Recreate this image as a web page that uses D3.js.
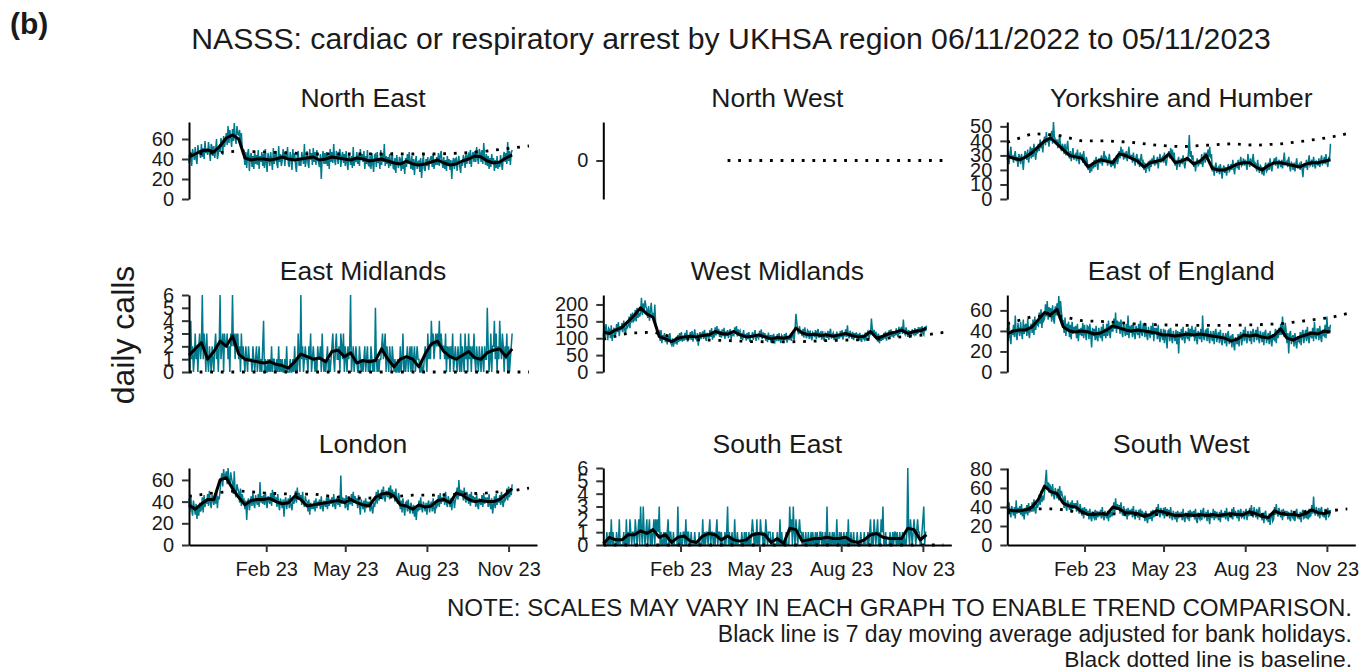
<!DOCTYPE html>
<html>
<head>
<meta charset="utf-8">
<script src="https://cdn.jsdelivr.net/npm/d3@7"></script>
<style>
  body { margin: 0; background: #fff; }
  svg text { font-family: "Liberation Sans", Arial, sans-serif; fill: #1a1a1a; }
</style>
</head>
<body>
<svg id="chart" width="1362" height="671"></svg>
<script>
// ---- data ----
var regions = ["North East", "North West", "Yorkshire and Humber",
               "East Midlands", "West Midlands", "East of England",
               "London", "South East", "South West"];

var yMax = [77, 1, 53, 6, 228, 75, 71, 6, 81];
var yMin = [0, -1, 0, 0, 0, 0, 0, 0, 0];
var yTicks = [[0, 20, 40, 60], [0], [0, 10, 20, 30, 40, 50], [0, 1, 2, 3, 4, 5, 6],
              [0, 50, 100, 150, 200], [0, 20, 40, 60], [0, 20, 40, 60],
              [0, 1, 2, 3, 4, 5, 6], [0, 20, 40, 60, 80]];
var xTickLabels = ["2023-02-01", "2023-05-01", "2023-08-01", "2023-11-01"];

// daily calls, 06/11/2022 .. 05/11/2023
var dailyNorthEast = [36,48,40,33,50,45,39, 52,40,35,54,46,49,41, 55,42,51,40,58,46,50, 44,57,47,38,55,52,43,
  53,41,49,60,40,45,54, 47,61,55,44,63,52,58, 66,54,73,56,69,62,52, 70,58,76,61,55,73,65,
  64,69,53,66,50,46,43, 34,47,31,45,50,28,42, 46,32,43,30,48,35,44, 34,49,30,43,37,47,33,
  45,31,50,36,27,46,41, 33,47,38,29,51,35,43, 48,35,31,53,37,45,33, 38,50,44,33,48,40,52,
  35,32,47,41,29,50,38, 46,34,27,44,48,33,41, 33,47,42,35,55,32,38, 48,36,31,50,39,46,34,
  51,37,47,34,49,40,36, 32,45,20,41,48,35,46, 35,47,33,43,30,50,37, 47,36,55,39,34,48,43,
  35,46,50,32,42,47,36, 45,33,48,36,29,46,41, 34,43,31,52,33,42,37, 47,35,44,33,50,39,45,
  37,48,30,43,35,49,34, 33,43,30,46,35,27,44, 45,32,47,36,41,30,49, 34,46,37,55,33,43,35,
  42,31,45,33,38,47,31, 30,41,26,44,35,31,42, 40,28,43,30,37,25,41, 32,45,35,47,38,30,43,
  29,40,24,38,43,30,37, 38,27,41,21,36,44,30, 28,40,33,42,29,38,41, 43,32,45,30,39,34,42,
  34,46,33,43,48,37,31, 42,30,39,28,43,33,40, 29,39,20,37,41,30,40, 41,28,38,43,32,26,39,
  33,44,40,31,46,35,43, 45,35,49,32,43,47,37, 48,37,52,41,35,50,46, 37,49,35,56,42,34,45,
  33,43,30,41,32,45,36, 41,28,39,31,43,30,38, 32,44,35,29,42,47,37, 46,35,57,38,48,34,46, 49];
var dailyNorthWest = [];
var dailyYorkshire = [27,33,24,31,36,28,30, 25,30,33,26,29,22,31, 29,24,31,27,20,28,33, 31,27,34,25,30,36,28,
  35,29,38,31,27,34,33, 38,33,41,35,39,32,40, 43,37,46,39,42,36,44, 40,47,38,53,43,41,39,
  41,35,39,44,36,33,38, 36,31,38,30,35,40,32, 28,33,26,31,35,27,30, 31,26,34,28,24,32,29,
  30,25,33,27,23,29,26, 20,24,18,23,19,25,21, 27,22,29,24,20,28,25, 25,30,23,28,33,26,29,
  28,23,27,31,24,22,27, 23,28,21,26,30,24,27, 33,28,36,30,34,27,32, 28,33,26,31,36,29,30,
  30,25,32,27,23,29,31, 24,28,22,27,31,25,26, 20,25,18,23,21,26,19, 27,22,28,24,30,23,26,
  24,29,21,27,31,25,28, 29,25,32,26,23,28,30, 33,28,35,30,34,27,32, 23,27,20,26,29,22,25,
  28,24,30,25,21,27,29, 26,31,44,29,33,27,30, 22,26,19,25,28,23,24, 27,24,31,22,26,32,25,
  32,27,34,29,36,28,31, 19,23,16,22,25,18,21, 22,17,24,19,14,21,23, 18,22,16,21,24,19,20,
  24,20,27,21,17,23,25, 21,27,20,25,29,23,24, 28,23,27,24,20,31,26, 22,28,24,26,31,23,25,
  24,19,27,21,18,23,22, 17,22,16,21,25,19,20, 25,20,28,22,19,24,26, 28,23,29,24,21,27,25,
  22,27,21,26,32,24,25, 26,22,29,23,19,25,24, 20,25,19,24,28,22,23, 24,20,26,21,15,23,22,
  22,27,20,25,30,23,24, 27,22,29,24,21,26,25, 23,28,22,26,30,24,25, 29,24,31,25,22,28,27, 38];
var dailyEastMidlands = [2,0,4,1,2,0,1, 3,1,2,0,2,3,1, 2,6,1,3,2,0,3, 1,0,2,1,0,2,1,
  0,2,3,1,2,0,2, 6,1,2,3,0,3,2, 2,3,1,2,0,3,2, 6,2,3,1,3,2,3,
  1,2,0,3,1,2,1, 0,2,1,0,2,1,1, 1,0,2,1,0,1,2, 0,1,2,0,1,0,2,
  4,0,1,0,0,1,0, 1,0,2,0,1,1,0, 0,1,0,2,0,1,0, 1,0,0,1,0,2,0,
  0,0,1,0,0,1,0, 2,0,1,0,3,1,0, 6,1,2,0,1,2,1, 1,0,2,1,3,0,1,
  2,1,0,1,0,2,1, 1,2,0,3,1,0,1, 0,1,2,0,1,0,1, 2,3,1,0,2,3,1,
  1,2,0,3,2,1,3, 0,2,1,0,2,1,2, 6,0,1,2,0,1,2, 1,0,0,2,1,0,1,
  0,1,2,0,1,2,0, 1,0,2,1,0,1,0, 5,1,0,1,0,1,1, 2,3,1,2,3,0,2,
  1,0,2,1,0,2,1, 0,1,0,0,1,0,0, 2,0,1,3,0,1,0, 1,2,0,1,2,0,2,
  0,1,2,0,1,2,1, 1,0,0,1,0,0,1, 2,1,0,3,1,2,1, 4,2,3,1,2,3,2,
  3,2,4,1,3,2,2, 2,1,3,0,2,1,2, 0,2,1,3,0,1,2, 1,0,2,1,0,3,0,
  2,1,0,3,1,2,0, 3,1,2,0,2,1,3, 1,0,2,1,0,2,1, 0,2,1,0,2,1,1,
  5,2,0,1,3,0,2, 2,4,1,3,0,2,1, 4,2,1,3,2,0,2, 1,3,0,2,0,1,2, 3];
var dailyWestMidlands = [105,135,98,142,120,94,130, 125,100,138,92,118,131,104, 112,142,118,148,106,135,128,
  145,118,152,126,112,140,131, 136,164,130,172,146,176,150, 154,184,150,190,160,176,164,
  176,220,168,203,182,212,195, 185,160,195,152,180,205,166, 175,150,200,142,135,118,112,
  118,92,124,85,110,96,115, 88,110,82,106,92,115,86, 80,100,75,98,84,104,81,
  110,88,115,92,118,90,104, 93,116,96,124,90,110,100, 118,95,121,90,110,126,100,
  95,115,78,108,118,97,112, 120,98,125,102,92,116,106, 100,124,104,130,96,117,102,
  132,108,136,112,128,104,122, 102,126,106,131,98,120,112, 124,100,118,127,96,113,110,
  108,132,115,136,105,126,116, 122,98,116,94,124,102,112, 93,116,97,118,90,110,102,
  118,95,112,124,92,108,104, 99,122,103,126,97,117,108, 115,93,110,88,117,96,109,
  87,110,90,113,84,104,97, 112,91,115,95,86,109,104, 90,112,94,116,87,107,96,
  96,114,92,117,108,94,128, 172,145,121,112,136,117,120, 106,128,102,132,110,100,124,
  120,98,123,103,94,117,112, 103,124,98,120,127,101,114, 118,96,121,100,92,115,110,
  101,122,95,118,128,99,111, 116,94,113,90,120,98,108, 99,121,103,124,96,117,110,
  126,104,138,108,100,122,112, 98,119,94,115,101,117,104, 113,92,116,96,89,111,101,
  96,117,93,114,120,98,108, 114,158,128,109,125,105,119, 110,90,114,85,104,92,104,
  95,116,99,120,93,113,106, 124,103,126,105,120,102,118, 108,129,111,104,134,112,126,
  134,113,155,117,111,132,122, 104,124,102,121,107,126,114, 110,130,108,127,113,133,118,
  132,113,136,115,110,134,121, 137];
var dailyEastEngland = [43,30,47,34,27,41,36, 46,34,55,36,31,48,40, 35,49,38,32,51,37,45, 47,35,52,38,33,44,47,
  38,51,36,54,41,49,46, 45,58,47,61,43,56,50, 52,66,54,69,51,63,60, 62,49,65,52,47,64,55,
  67,55,74,54,69,58,50, 50,38,53,35,47,40,49, 34,46,32,49,37,44,40, 45,33,47,30,42,36,43,
  35,48,33,46,37,31,45, 44,32,47,36,24,43,35, 42,31,45,33,30,43,36, 33,44,30,47,35,42,33,
  47,35,50,38,33,46,40, 40,52,42,58,38,50,44, 49,37,51,40,34,48,42, 35,47,36,55,33,45,38,
  46,34,48,37,32,45,39, 36,47,33,50,38,35,46, 45,34,47,36,31,44,38, 33,45,36,48,30,43,37,
  43,32,46,34,29,42,36, 31,42,28,41,33,23,40, 41,30,43,33,28,40,34, 30,41,27,40,18,39,33,
  42,31,44,33,28,40,35, 32,43,30,42,34,45,35, 41,30,44,33,27,40,34, 32,42,29,55,34,31,40,
  41,30,43,33,28,40,35, 30,40,27,39,42,29,36, 39,28,41,31,26,38,33, 28,38,25,37,40,27,34,
  35,24,37,27,21,34,29, 27,37,25,36,39,26,33, 41,30,44,33,28,40,35, 30,40,27,39,42,29,36,
  41,31,44,33,28,40,35, 29,39,26,38,41,28,35, 38,27,40,30,25,37,32, 31,42,28,41,33,43,36,
  47,36,54,39,34,48,41, 28,38,18,37,40,27,34, 36,25,38,28,23,35,30, 29,39,26,38,41,28,35,
  41,30,44,33,28,40,35, 33,43,30,49,35,32,42, 42,31,45,34,29,41,36, 35,46,33,54,37,44,39, 46];
var dailyLondon = [43,30,46,33,27,41,35, 28,38,24,36,27,39,31, 33,44,30,46,35,42,38, 47,36,50,39,34,46,41,
  37,48,38,51,34,45,42, 50,60,66,54,70,62,63, 68,56,71,58,55,67,61, 57,47,68,48,44,56,52,
  49,39,52,36,47,41,42, 33,41,23,40,43,32,38, 45,36,48,38,34,46,40, 37,47,35,58,39,45,38,
  46,37,49,39,34,45,41, 38,48,36,51,40,47,41, 44,35,47,37,32,43,39, 34,42,26,41,44,33,40,
  43,34,46,36,32,42,38, 41,50,39,53,42,48,44, 46,37,49,39,35,45,41, 40,31,42,28,39,33,37,
  33,41,31,43,34,40,36, 42,33,45,35,31,41,37, 35,44,33,46,36,42,38, 44,35,47,37,33,43,39,
  37,46,35,64,38,44,40, 43,34,46,36,32,42,38, 38,47,36,49,39,45,41, 43,34,46,36,28,42,38,
  33,41,30,43,34,40,36, 40,31,42,33,29,39,35, 40,49,38,51,41,47,43, 51,42,54,44,40,50,46,
  44,53,42,55,45,51,47, 49,40,52,42,38,48,44, 33,41,30,43,34,27,39, 40,31,42,33,29,39,35,
  29,37,26,36,23,34,31, 41,32,44,34,30,40,36, 31,39,28,38,41,30,37, 40,31,43,33,29,39,35,
  37,46,35,48,38,44,40, 46,37,49,39,35,45,41, 35,43,32,42,45,34,41, 44,53,42,60,45,51,47,
  50,41,53,43,39,49,45, 38,47,36,49,39,45,41, 44,35,47,37,33,43,39, 37,46,35,48,38,44,40,
  44,35,47,37,33,43,29, 36,45,34,47,37,43,39, 46,37,49,39,35,45,41, 43,52,41,54,44,50,46, 56];
var dailySouthEast = [0,0,0,0,1,0,0, 1,0,2,0,1,0,0, 0,1,0,0,2,0,0, 0,0,1,0,0,2,0,
  1,0,2,1,0,1,1, 0,2,1,0,1,2,0, 3,1,0,3,1,0,1, 2,0,1,2,0,1,0,
  1,2,0,2,1,2,1, 3,0,1,0,0,1,0, 1,0,1,2,0,1,1, 0,0,1,0,0,0,0,
  3,0,0,1,0,0,1, 1,0,2,0,1,1,0, 0,1,0,0,0,1,0, 0,0,0,1,0,0,0,
  2,0,1,0,1,1,0, 1,2,0,1,1,0,1, 0,1,2,0,1,1,0, 1,0,0,0,1,0,1,
  3,0,1,0,0,1,0, 0,2,0,0,1,0,0, 0,0,1,0,0,1,0, 1,0,0,1,0,0,1,
  2,1,0,1,0,2,0, 1,0,2,1,1,0,1, 0,2,1,0,1,1,1, 0,0,1,0,0,0,0,
  1,0,0,2,0,1,0, 0,0,0,1,0,0,0, 3,1,2,0,3,1,0, 2,1,0,1,2,1,1,
  0,1,0,0,1,0,0, 1,0,0,1,0,1,0, 0,1,0,1,0,0,1, 1,0,1,0,0,1,0,
  3,0,0,1,0,0,1, 0,1,0,0,2,0,0, 1,0,1,0,0,1,0, 0,1,0,2,0,0,1,
  0,0,1,0,0,0,1, 0,0,0,1,0,0,0, 1,0,0,0,1,0,1, 2,0,1,0,2,1,0,
  1,2,0,1,0,2,1, 3,0,0,1,0,0,0, 0,1,0,0,1,0,1, 1,0,1,0,0,1,0,
  0,1,0,1,0,0,1, 6,1,0,2,1,0,1, 2,1,0,1,2,1,1, 0,0,1,2,3,0,1, 1];
var dailySouthWest = [42,32,45,34,29,41,36, 31,40,28,47,33,39,34, 41,32,43,30,38,27,39, 33,42,31,44,34,40,35,
  45,35,48,37,33,44,39, 43,53,42,57,45,52,47, 56,68,79,58,66,55,63, 61,51,64,53,48,60,55,
  49,59,47,62,51,57,52, 49,39,52,40,36,47,42, 37,45,34,47,38,44,39, 44,35,47,37,33,43,38,
  31,39,28,40,32,38,33, 36,27,38,29,25,35,30, 28,37,26,36,29,35,30, 37,28,40,30,26,36,31,
  28,36,25,37,29,35,30, 36,45,34,49,37,43,38, 42,33,45,35,31,41,36, 30,38,27,39,31,37,32,
  38,29,41,31,27,37,32, 29,37,26,38,30,36,31, 34,25,36,27,23,33,28, 28,36,25,37,29,35,30,
  40,31,43,33,29,39,34, 31,39,28,40,32,38,33, 37,28,40,30,26,36,31, 27,35,24,36,28,34,29,
  35,26,38,28,24,34,29, 28,36,25,37,29,35,30, 36,27,38,26,23,34,29, 27,37,26,35,39,29,30,
  35,25,37,28,22,34,29, 29,38,26,36,28,35,30, 26,35,24,37,29,32,29, 36,27,39,29,25,35,30,
  29,38,27,40,30,36,31, 28,37,25,35,38,29,30, 36,27,34,38,26,35,30, 39,31,42,32,29,40,33,
  29,38,27,36,40,30,31, 26,34,23,33,36,27,28, 24,33,21,31,34,25,27, 40,32,43,33,30,39,34,
  29,37,26,38,30,36,31, 36,27,35,28,25,37,30, 28,36,25,35,38,29,30, 27,35,24,34,37,28,29,
  37,28,35,27,38,30,31, 42,33,51,34,31,40,35, 30,39,28,37,40,31,32, 29,38,26,36,39,30,31, 37];

// 7 day moving average, one value per week (day 0, 7, 14, ...)
var maNorthEast = [42,45,48,49,47,53,61,64,60,41, 39,40,40,39,40,42,40,39,40,41, 42,39,40,42,41,40,39,41,40,38,
  39,40,38,36,35,38,35,34,35,37, 39,36,34,35,38,40,43,42,38,36, 37,41,44];
var maNorthWest = [];
var maYorkshire = [29.5,28,27,29,32,36,40,42,38,34, 30,29,28,22,25,27,26,25,31,30, 28,26,22,25,26,27,31,25,26,28,
  24,26,30,21,20,20,22,24,25,25, 22,20,23,25,25,24,23,22,24,25, 25,26,27];
var maEastMidlands = [1.3,1.8,2.3,1.0,1.6,2.4,2.0,2.8,1.4,1.0, 0.9,0.8,0.7,0.8,0.6,0.5,0.3,0.8,1.4,1.2,
  1.0,1.1,0.8,1.6,1.7,1.2,1.5,0.7,0.9,0.8, 0.9,1.8,1.0,0.4,1.0,1.2,1.0,0.4,1.4,2.2,
  2.4,1.6,1.2,1.0,1.3,1.6,1.1,1.0,1.5,1.7, 1.8,1.2,1.8];
var maWestMidlands = [118,114,125,132,150,168,190,172,162,105, 98,90,100,104,106,104,108,110,120,114,
  112,120,110,104,106,110,104,98,102,100, 104,130,116,110,112,108,110,106,110,114,
  108,104,106,120,100,106,114,118,124,114, 120,122,130];
var maEastEngland = [37,40,41,41,44,51,58,56,61,44, 40,39,40,39,37,38,41,45,43,41, 40,41,40,39,38,36,36,35,36,37,
  36,37,36,35,34,33,30,32,36,35, 36,34,33,36,42,33,31,34,36,38, 37,40,39];
var maLondon = [37,33,38,42,42,60,62,52,44,37, 41,42,42,43,40,38,39,45,42,36, 37,38,39,40,41,39,42,39,37,36,
  44,47,48,45,37,36,33,37,35,36, 41,42,39,48,46,42,40,41,40,40, 42,47,52];
var maSouthEast = [0.1,0.6,0.4,0.4,0.8,0.8,1.1,0.9,1.2,0.6, 0.8,0.2,0.6,0.7,0.3,0.2,0.7,0.9,0.8,0.4,
  0.7,0.4,0.3,0.4,0.8,0.9,0.8,0.2,0.5,0.1, 1.3,1.2,0.3,0.4,0.5,0.5,0.6,0.5,0.5,0.6,
  0.3,0.2,0.4,0.8,0.9,0.6,0.5,0.5,0.5,1.3, 1.2,0.4,0.8];
var maSouthWest = [37,36,36,37,40,48,62,56,54,44, 41,40,35,32,32,33,32,40,38,34, 34,33,30,32,36,35,33,31,31,32,
  31,32,31,32,31,32,33,32,32,35, 33,30,29,36,33,32,32,31,33,37, 34,33,35];

// baseline, one value every 4 weeks (last point runs past the data)
var baseDays = [0, 28, 56, 84, 112, 140, 168, 196, 224, 252, 280, 308, 336, 364, 383];
var baseNorthEast = [45,46,48,47,46,45,45,45,45,45,45,46,48,51,53];
var baseNorthWest = [null,null,null,null,null,0,0,0,0,0,0,0,0,0,0];
var baseYorkshire = [39,45,44,40,40,39,37,36,37,38,37,38,40,42.5,45];
var baseEastMidlands = [0,0,0,0,0,0,0,0,0,0,0,0,0,0,0];
var baseWestMidlands = [97,115,118,100,95,93,90,89,90,93,95,97,104,110,117];
var baseEastEngland = [47,54,55,50,49,47,46,45.5,45.5,45.5,46,47,50,53,57];
var baseLondon = [45,48,50,48,47,47,44,43,44,46,46,47,48,50,52.5];
var baseSouthEast = [0,0,0,0,0,0,0,0,0,0,0,0,0,0,0];
var baseSouthWest = [34,38,38,34,33,32,32,31,31,31,32,33,35,36,38];

var daily = [dailyNorthEast, dailyNorthWest, dailyYorkshire, dailyEastMidlands, dailyWestMidlands,
             dailyEastEngland, dailyLondon, dailySouthEast, dailySouthWest];
var movAvg = [maNorthEast, maNorthWest, maYorkshire, maEastMidlands, maWestMidlands,
              maEastEngland, maLondon, maSouthEast, maSouthWest];
var baseline = [baseNorthEast, baseNorthWest, baseYorkshire, baseEastMidlands, baseWestMidlands,
                baseEastEngland, baseLondon, baseSouthEast, baseSouthWest];

// ---- layout ----
var svg = d3.select("#chart");
var colX = [189, 603.3, 1007.3];
var rowTop = [122, 295, 468];
var plotW = 348, plotH = 77;
var startDate = new Date(Date.UTC(2022, 10, 6));
var endDate = new Date(Date.UTC(2023, 11, 3));
var teal = "#00798c";

function dayDate(d) { return d3.utcDay.offset(startDate, d); }

svg.append("text")
  .attr("x", 10).attr("y", 34)
  .attr("font-size", 30).attr("font-weight", "bold")
  .text("(b)");

svg.append("text")
  .attr("x", 731).attr("y", 49)
  .attr("text-anchor", "middle")
  .attr("font-size", 30.2)
  .text("NASSS: cardiac or respiratory arrest by UKHSA region 06/11/2022 to 05/11/2023");

svg.append("text")
  .attr("transform", "translate(134, 335) rotate(-90)")
  .attr("text-anchor", "middle")
  .attr("font-size", 32)
  .text("daily calls");

regions.forEach(function (name, i) {
  var col = i % 3, row = Math.floor(i / 3);
  var g = svg.append("g")
    .attr("transform", `translate(${colX[col]}, ${rowTop[row]})`);

  var x = d3.scaleUtc().domain([startDate, endDate]).range([0, plotW]);
  var y = d3.scaleLinear().domain([yMin[i], yMax[i]]).range([plotH, 0]);

  g.append("text")
    .attr("x", plotW / 2).attr("y", -15)
    .attr("text-anchor", "middle")
    .attr("font-size", 26.5)
    .text(name);

  // daily counts
  var line = d3.line()
    .x((v, k) => x(dayDate(k)))
    .y(v => y(v));
  if (daily[i].length) {
    g.append("path")
      .attr("d", line(daily[i]))
      .attr("fill", "none")
      .attr("stroke", teal)
      .attr("stroke-width", 1.5);
  }

  // baseline (dotted)
  var baseLine = d3.line()
    .defined(v => v !== null)
    .x((v, k) => x(dayDate(baseDays[k])))
    .y(v => y(v));
  g.append("path")
    .attr("d", baseLine(baseline[i]))
    .attr("fill", "none")
    .attr("stroke", "#000")
    .attr("stroke-width", 2.8)
    .attr("stroke-dasharray", "2.8,7.8");

  // moving average
  var maLine = d3.line()
    .x((v, k) => x(dayDate(k * 7)))
    .y(v => y(v));
  if (movAvg[i].length) {
    g.append("path")
      .attr("d", maLine(movAvg[i]))
      .attr("fill", "none")
      .attr("stroke", "#000")
      .attr("stroke-width", 3)
      .attr("stroke-linejoin", "round");
  }

  // y axis
  var yAxis = g.append("g")
    .call(d3.axisLeft(y).tickValues(yTicks[i]).tickFormat(d3.format("d"))
      .tickSize(7).tickSizeOuter(0).tickPadding(8));
  yAxis.select(".domain").attr("stroke", "#000").attr("stroke-width", 2);
  yAxis.selectAll(".tick line").attr("stroke", "#333").attr("stroke-width", 2);
  yAxis.selectAll(".tick text").attr("font-size", 20).attr("font-family", null).attr("fill", "#1a1a1a");

  // x axis only on the bottom row
  if (row === 2) {
    var xAxis = g.append("g")
      .attr("transform", `translate(0, ${plotH})`)
      .call(d3.axisBottom(x)
        .tickValues(xTickLabels.map(s => new Date(s + "T00:00:00Z")))
        .tickFormat(d3.utcFormat("%b %y"))
        .tickSize(7).tickSizeOuter(0).tickPadding(10));
    xAxis.select(".domain").attr("stroke", "#000").attr("stroke-width", 2);
    xAxis.selectAll(".tick line").attr("stroke", "#333").attr("stroke-width", 2);
    xAxis.selectAll(".tick text").attr("font-size", 20).attr("font-family", null).attr("fill", "#1a1a1a");
  }
});

// notes
var notes = ["NOTE: SCALES MAY VARY IN EACH GRAPH TO ENABLE TREND COMPARISON.",
             "Black line is 7 day moving average adjusted for bank holidays.",
             "Black dotted line is baseline."];
var noteSize = [24.1, 23, 22.8];
svg.selectAll(".note")
  .data(notes)
  .enter()
  .append("text")
  .attr("class", "note")
  .attr("x", 1352)
  .attr("y", (d, k) => 616 + k * 25.5)
  .attr("text-anchor", "end")
  .attr("font-size", (d, k) => noteSize[k])
  .text(d => d);
</script>
</body>
</html>
